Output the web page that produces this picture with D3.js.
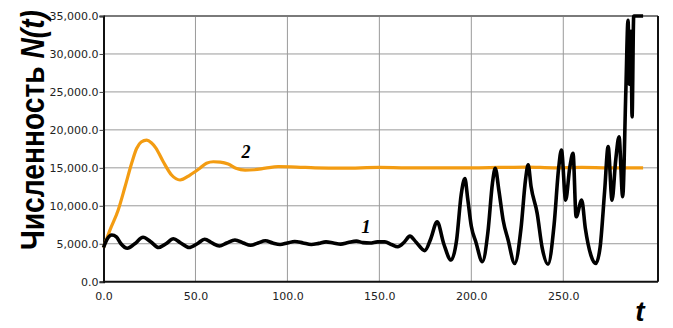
<!DOCTYPE html>
<html lang="ru">
<head>
<meta charset="UTF-8">
<title>Численность N(t)</title>
<script src="https://d3js.org/d3.v7.min.js"></script>
<style>
  body { margin: 0; background: #fff; }
  svg { display: block; }
  .tick text { font-family: "DejaVu Sans", Verdana, sans-serif; font-size: 11px; fill: #222; }
</style>
</head>
<body>
<svg width="673" height="328"></svg>
<script>
// t, N(t)
const tBlack = [0, 2, 4.5, 7, 9.5, 13, 17, 21.5, 25.5, 30, 34, 38, 42, 46.5, 51, 55, 59, 63, 67, 71.5,
  76, 80, 84, 88, 92, 96, 100, 104, 108.5, 113, 117, 121, 125, 129, 133, 137.5, 141, 145, 149, 153,
  156.5, 160, 163.5, 166.6, 170, 174.7, 178, 181.4, 185, 189, 192, 194.5, 196.5, 198, 200, 202.5, 206,
  209, 211.5, 213, 215, 217.3, 220, 223.6, 227, 229.5, 230.9, 232.5, 235.8, 238.5, 241.7, 245, 247.5,
  249, 251.3, 253.5, 255.3, 257, 260, 262, 265, 267.7, 270, 272.5, 274.4, 276.5, 278.5, 280.3, 282.3,
  284, 285.2, 286, 286.8, 287.4, 288.3, 293.4];
const nBlack = [4500, 5600, 6150, 5900, 5000, 4400, 5000, 5850, 5300, 4500, 5000, 5650, 5100, 4500, 5000, 5600, 5100, 4700, 5100, 5500,
  5100, 4800, 5100, 5400, 5100, 4900, 5100, 5300, 5100, 4900, 5050, 5250, 5100, 4950, 5150, 5350, 5150, 5100, 5250, 5250,
  4900, 4600, 5200, 6000, 5200, 4100, 5700, 7900, 5000, 2850, 5500, 11500, 13600, 11000, 7300, 5200, 2650,
  6500, 13000, 14950, 12000, 8100, 5500, 2400, 7000, 13500, 15400, 12500, 9000, 4500, 2300, 7500, 15000,
  17350, 10750, 15000, 16900, 8550, 10750, 7000, 3500, 2400, 4500, 12000, 17800, 10750, 16000, 19100, 11200,
  25000, 34450, 26000, 33000, 21700, 35000, 35000];

const tOrange = [0, 3.5, 8, 11.7, 15.3, 18, 20.5, 23.5, 26, 28.5, 32.5, 37, 41.6, 47, 52.4, 56, 59.7, 63.5, 67.8,
  72, 77, 82, 88, 95, 105, 115, 130, 150, 165, 180, 200, 215, 230, 245, 260, 275, 293.4];
const nOrange = [4500, 6800, 9450, 12500, 15600, 17550, 18400, 18650, 18300, 17600, 15800, 14050, 13400, 14050, 14950, 15600, 15800, 15750, 15500,
  14950, 14700, 14750, 14950, 15150, 15100, 15000, 14950, 15050, 15000, 15000, 15000, 15050, 15100, 15000, 15050, 15000, 15000];

const xTicks = [0, 50, 100, 150, 200, 250];
const yTicks = [0, 5000, 10000, 15000, 20000, 25000, 30000, 35000];

const svg = d3.select("svg");
const plotLeft = 103.5, plotRight = 658, plotTop = 16, plotBottom = 281.7;

const x = d3.scaleLinear().domain([0, 301.5]).range([plotLeft, plotRight]);
const y = d3.scaleLinear().domain([0, 35000]).range([plotBottom, plotTop]);

// grid
svg.append("g")
  .selectAll("line")
  .data(xTicks.slice(1))
  .join("line")
  .attr("x1", d => x(d)).attr("x2", d => x(d))
  .attr("y1", plotTop).attr("y2", plotBottom)
  .attr("stroke", "#9a9a9a").attr("stroke-width", 1);

svg.append("g")
  .selectAll("line")
  .data(yTicks.slice(1, -1))
  .join("line")
  .attr("x1", plotLeft).attr("x2", plotRight)
  .attr("y1", d => y(d)).attr("y2", d => y(d))
  .attr("stroke", "#9a9a9a").attr("stroke-width", 1);

// frame: top gray, right black
svg.append("line")
  .attr("x1", plotLeft).attr("x2", plotRight).attr("y1", y(35000)).attr("y2", y(35000))
  .attr("stroke", "#7a7a7a").attr("stroke-width", 2);
svg.append("line")
  .attr("x1", plotRight).attr("x2", plotRight).attr("y1", plotTop).attr("y2", plotBottom)
  .attr("stroke", "#111").attr("stroke-width", 2);

// axes
const yAxis = svg.append("g")
  .attr("transform", `translate(${plotLeft},0)`)
  .call(d3.axisLeft(y).tickValues(yTicks).tickSize(4).tickPadding(1).tickFormat(d3.format(",.1f")));
yAxis.select(".domain").attr("stroke", "#111").attr("stroke-width", 2);
yAxis.selectAll(".tick line").attr("stroke", "#444");

const xAxis = svg.append("g")
  .attr("transform", `translate(0,${plotBottom})`)
  .call(d3.axisBottom(x).tickValues(xTicks).tickSize(0).tickPadding(11).tickFormat(d3.format(".1f")));
xAxis.select(".domain").attr("stroke", "#111").attr("stroke-width", 2)
  .attr("d", `M${plotLeft},0H${plotRight}`);

// series
const orange = tOrange.map((t, i) => [t, nOrange[i]]);
const black = tBlack.map((t, i) => [t, nBlack[i]]);

const line = d3.line()
  .x(d => x(d[0]))
  .y(d => y(d[1]))
  .curve(d3.curveMonotoneX);

svg.append("path")
  .attr("d", line(orange))
  .attr("fill", "none")
  .attr("stroke", "#f39c12")
  .attr("stroke-width", 3.2)
  .attr("stroke-linejoin", "round");

svg.append("path")
  .attr("d", line(black))
  .attr("fill", "none")
  .attr("stroke", "#000")
  .attr("stroke-width", 3.6)
  .attr("stroke-linejoin", "round");

// curve labels
svg.append("text")
  .attr("x", 246).attr("y", 158)
  .attr("text-anchor", "middle")
  .attr("font-family", "Liberation Serif, serif")
  .attr("font-weight", "bold").attr("font-style", "italic")
  .attr("font-size", 18)
  .text("2");

svg.append("text")
  .attr("x", 366).attr("y", 233)
  .attr("text-anchor", "middle")
  .attr("font-family", "Liberation Serif, serif")
  .attr("font-weight", "bold").attr("font-style", "italic")
  .attr("font-size", 19)
  .text("1");

// axis titles
const yl = svg.append("text")
  .attr("transform", "translate(44,130) rotate(-90)")
  .attr("text-anchor", "middle")
  .attr("font-family", "Liberation Sans, Arial, sans-serif")
  .attr("font-weight", "bold")
  .attr("font-size", 34)
  .attr("textLength", 240)
  .attr("lengthAdjust", "spacingAndGlyphs");
yl.append("tspan").text("Численность ");
yl.append("tspan").attr("font-style", "italic").text("N(t)");

svg.append("text")
  .attr("x", 640).attr("y", 321)
  .attr("text-anchor", "middle")
  .attr("font-family", "Liberation Sans, Arial, sans-serif")
  .attr("font-weight", "bold").attr("font-style", "italic")
  .attr("font-size", 28)
  .text("t");
</script>
</body>
</html>
